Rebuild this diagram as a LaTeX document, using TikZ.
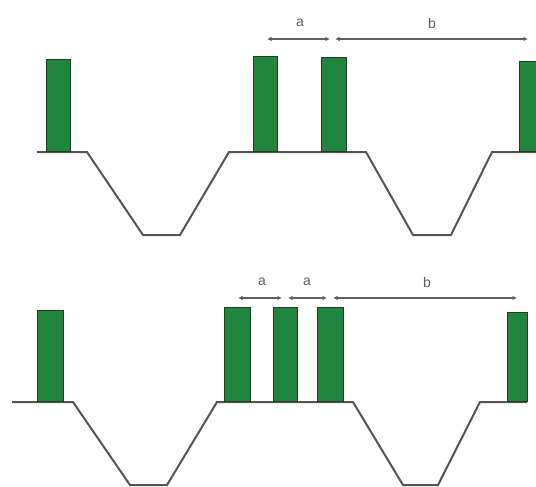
\documentclass[tikz,border=0pt]{standalone}
\usepackage{fontspec}
\setmainfont{Liberation Sans}
\usetikzlibrary{arrows.meta}
\definecolor{barfill}{RGB}{32,134,62}
\definecolor{barline}{RGB}{40,55,40}
\definecolor{linegray}{RGB}{85,85,85}
\definecolor{dimgray}{RGB}{95,95,95}
\begin{document}
\begin{tikzpicture}[x=1pt,y=-1pt,
  bar/.style={draw=barline, fill=barfill, line width=1.2pt, inner sep=0pt, minimum width=24pt, anchor=south west},
  track/.style={draw=linegray, line width=2pt, line join=miter},
  dim/.style={draw=dimgray, line width=1.3pt, {Latex[length=4.5pt,width=4.5pt]}-{Latex[length=4.5pt,width=4.5pt]}},
  lbl/.style={text=dimgray, inner sep=0pt, font=\fontsize{14}{14}\selectfont}]
\clip (0,0) rectangle (536,487);
\useasboundingbox (0,0) rectangle (536,487);
% ---------- top panel ----------
\draw[track] (37,152) -- (87,152) -- (143,235) -- (180,235) -- (229,152) -- (366,152) -- (413,235) -- (451,235) -- (492,152) -- (540,152);
\node[bar, minimum height=92pt] (t1) at (46,152) {};
\node[bar, minimum height=95pt] (t2) at (253,152) {};
\node[bar, minimum height=94pt, minimum width=25pt] (t3) at (321,152) {};
\node[bar, minimum height=90pt] (t4) at (519,152) {};
\coordinate (ta1) at (267,39);
\coordinate (ta2) at (330,39);
\coordinate (tb1) at (335,39);
\coordinate (tb2) at (528,39);
\draw[dim] (ta1) -- (ta2);
\draw[dim] (tb1) -- (tb2);
\node[lbl] (tla) at (300,23) {a};
\node[lbl] (tlb) at (432,23) {b};
% ---------- bottom panel ----------
\draw[track] (12,402) -- (73,402) -- (130,485) -- (167,485) -- (217,402) -- (353,402) -- (403,485) -- (438,485) -- (480,402) -- (527,402);
\node[bar, minimum height=91pt, minimum width=26pt] (b1) at (37,402) {};
\node[bar, minimum height=94pt, minimum width=26pt] (b2) at (224,402) {};
\node[bar, minimum height=94pt] (b3) at (273,402) {};
\node[bar, minimum height=94pt, minimum width=26pt] (b4) at (317,402) {};
\node[bar, minimum height=89pt, minimum width=20pt] (b5) at (507,402) {};
\coordinate (ba1) at (238,298);
\coordinate (ba2) at (282,298);
\coordinate (ba3) at (288,298);
\coordinate (ba4) at (327,298);
\coordinate (bb1) at (333,298);
\coordinate (bb2) at (517,298);
\draw[dim] (ba1) -- (ba2);
\draw[dim] (ba3) -- (ba4);
\draw[dim] (bb1) -- (bb2);
\node[lbl] (bla1) at (262,282) {a};
\node[lbl] (bla2) at (307,282) {a};
\node[lbl] (blb) at (427,282) {b};
\end{tikzpicture}
\end{document}
